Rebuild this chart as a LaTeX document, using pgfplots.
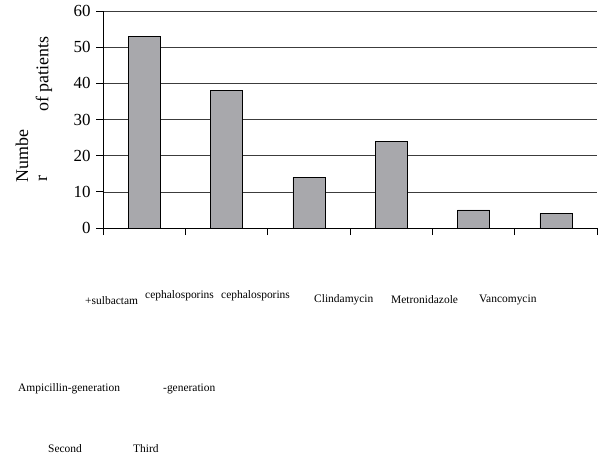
\documentclass[border=0pt]{standalone}
\usepackage{fontspec}
\setmainfont{Liberation Serif}
\usepackage{pgfplots}
\pgfplotsset{compat=1.18}

\definecolor{barfill}{RGB}{168,168,172}
\definecolor{gridc}{RGB}{60,60,60}

\begin{document}
\begin{tikzpicture}[x=1bp,y=1bp]
  % picture frame: image pixel (px,py) is placed at (px,-py)
  \useasboundingbox (0,0) rectangle (599,-456);
  \begin{axis}[
      at={(103bp,-228bp)}, anchor=south west,
      scale only axis,
      width=494bp, height=217bp,
      xmin=-0.5, xmax=5.5,
      ymin=0, ymax=60,
      ytick={0,10,...,60},
      xtick={-0.5,0.5,...,5.5},
      xticklabels={},
      axis x line=bottom, axis y line=left,
      axis line style={-, black, line width=0.8pt},
      x axis line style={shorten <=-7bp},
      tick align=outside,
      major tick length=7bp,
      tick style={black, line width=0.8pt},
      ymajorgrids,
      grid style={gridc, line width=0.6pt},
      yticklabel style={font=\fontsize{17}{19}\selectfont, anchor=east, xshift=-2bp},
      /pgf/number format/assume math mode=true,
      clip=false,
    ]
    \addplot[ybar, bar width=32bp, fill=barfill, draw=black, line width=0.6pt]
      coordinates {(0,53) (1,38) (2,14) (3,24) (4,5) (5,4)};
  \end{axis}

  % axis title pieces, as they appear in the reference
  \node[rotate=90, font=\fontsize{18}{20}\selectfont] at (44,-74) {of patients};
  \node[rotate=90, font=\fontsize{18}{20}\selectfont] at (22,-156) {Numbe};
  \node[rotate=90, font=\fontsize{18}{20}\selectfont] at (43,-179) {r};

  % category labels, scattered as in the reference
  \begin{scope}[every node/.style={font=\fontsize{11.5}{13}\selectfont, inner sep=0pt, anchor=west}]
    \node at (85,-301) {+sulbactam};
    \node at (145,-296) {cephalosporins};
    \node at (221,-296) {cephalosporins};
    \node at (314,-300) {Clindamycin};
    \node at (391,-300) {Metronidazole};
    \node at (479,-300) {Vancomycin};
    \node at (18,-389) {Ampicillin-generation};
    \node at (163,-389) {-generation};
    \node at (48,-449) {Second};
    \node at (133,-449) {Third};
  \end{scope}
\end{tikzpicture}
\end{document}
